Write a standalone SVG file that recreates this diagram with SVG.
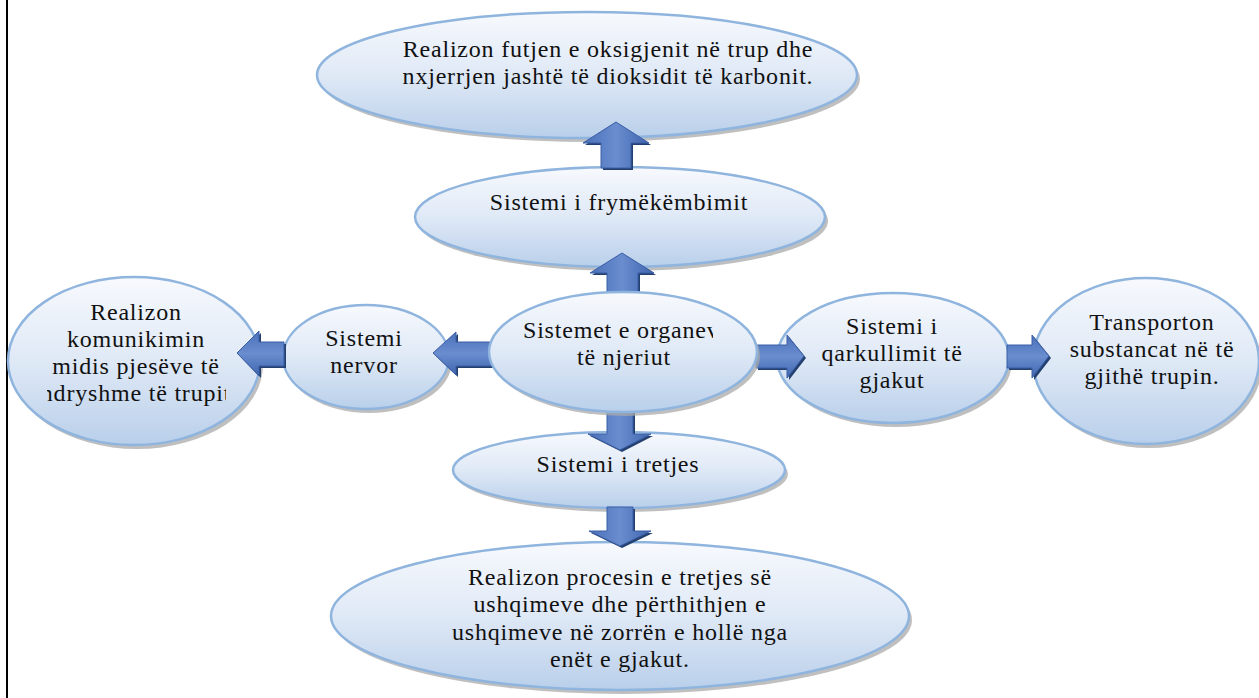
<svg xmlns="http://www.w3.org/2000/svg" width="1259" height="698" viewBox="0 0 1259 698">
<defs>
<linearGradient id="eg" x1="0" y1="0" x2="0" y2="1">
<stop offset="0" stop-color="#f7f9fd"/>
<stop offset="0.5" stop-color="#dfe9f6"/>
<stop offset="1" stop-color="#b9cfea"/>
</linearGradient>
<linearGradient id="agv" x1="0" y1="0" x2="1" y2="0">
<stop offset="0" stop-color="#4a70b8"/>
<stop offset="0.5" stop-color="#6a8dcf"/>
<stop offset="1" stop-color="#3f65ad"/>
</linearGradient>
<linearGradient id="agh" x1="0" y1="0" x2="0" y2="1">
<stop offset="0" stop-color="#4a70b8"/>
<stop offset="0.5" stop-color="#6a8dcf"/>
<stop offset="1" stop-color="#3f65ad"/>
</linearGradient>
<clipPath id="clipC"><rect x="480" y="300" width="233" height="100"/></clipPath>
<clipPath id="clipL"><rect x="47" y="290" width="179" height="130"/></clipPath>
</defs>
<style>
.sh{fill:#a9a9a9;opacity:0.75}
.el{fill:url(#eg);stroke:#8fb4de;stroke-width:2.5}
.t{font-family:"Liberation Serif","Times New Roman",serif;font-size:24px;letter-spacing:0.8px;fill:#111;text-anchor:middle}
.av{fill:url(#agv);stroke:#3a5ea6;stroke-width:1}
.ah{fill:url(#agh);stroke:#3a5ea6;stroke-width:1}
.ad{fill:#23406f}
</style>
<rect x="6" y="0" width="2" height="698" fill="#000"/>

<g id="nodes">
<g id="n-top">
<ellipse class="sh" cx="590" cy="79" rx="270" ry="63"/>
<ellipse class="el" cx="587" cy="75" rx="270" ry="63"/>
<text class="t" x="608" y="57">Realizon futjen e oksigjenit në trup dhe</text>
<text class="t" x="608" y="84">nxjerrjen jashtë të dioksidit të karbonit.</text>
</g>
<g id="n-fry">
<ellipse class="sh" cx="623" cy="221" rx="205" ry="50"/>
<ellipse class="el" cx="620" cy="217" rx="205" ry="50"/>
<text class="t" x="619" y="210">Sistemi i frymëkëmbimit</text>
</g>
<g id="n-left">
<ellipse class="sh" cx="137" cy="365" rx="126" ry="84"/>
<ellipse class="el" cx="134" cy="361" rx="126" ry="84"/>
<text class="t" x="136" y="320">Realizon</text>
<text class="t" x="136" y="347">komunikimin</text>
<text class="t" x="136" y="374">midis pjesëve të</text>
<g clip-path="url(#clipL)"><text class="t" x="136" y="401">ndryshme të trupit</text></g>
</g>
<g id="n-nerv">
<ellipse class="sh" cx="369" cy="361" rx="83" ry="52"/>
<ellipse class="el" cx="366" cy="357" rx="83" ry="52"/>
<text class="t" x="364" y="346">Sistemi</text>
<text class="t" x="364" y="373">nervor</text>
</g>
<g id="n-qark">
<ellipse class="sh" cx="896" cy="362" rx="116" ry="65"/>
<ellipse class="el" cx="893" cy="358" rx="116" ry="65"/>
<text class="t" x="892" y="334">Sistemi i</text>
<text class="t" x="892" y="361">qarkullimit të</text>
<text class="t" x="892" y="388">gjakut</text>
</g>
<g id="n-trans">
<ellipse class="sh" cx="1149" cy="365" rx="113" ry="83"/>
<ellipse class="el" cx="1146" cy="361" rx="113" ry="83"/>
<text class="t" x="1152" y="330">Transporton</text>
<text class="t" x="1152" y="357">substancat në të</text>
<text class="t" x="1152" y="384">gjithë trupin.</text>
</g>
<g id="n-tret">
<ellipse class="sh" cx="622" cy="474" rx="166" ry="38"/>
<ellipse class="el" cx="619" cy="470" rx="166" ry="38"/>
<text class="t" x="618" y="472">Sistemi i tretjes</text>
</g>
<g id="n-bot">
<ellipse class="sh" cx="623" cy="620" rx="289" ry="74"/>
<ellipse class="el" cx="620" cy="616" rx="289" ry="74"/>
<text class="t" x="620" y="585">Realizon procesin e tretjes së</text>
<text class="t" x="620" y="612">ushqimeve dhe përthithjen e</text>
<text class="t" x="620" y="640">ushqimeve në zorrën e hollë nga</text>
<text class="t" x="620" y="667">enët e gjakut.</text>
</g>
</g>

<g id="connectors">
<g id="a-top">
<polygon class="ad" transform="translate(2,2)" points="616,122 649,143 631,143 631,168 601,168 601,143 583,143"/>
<polygon class="av" points="616,122 649,143 631,143 631,168 601,168 601,143 583,143"/>
</g>
<g id="a-fry">
<polygon class="ad" transform="translate(2,2)" points="622,253 654,273 638,273 638,293 607,293 607,273 590,273"/>
<polygon class="av" points="622,253 654,273 638,273 638,293 607,293 607,273 590,273"/>
</g>
<g id="a-nerv">
<polygon class="ad" transform="translate(2,2)" points="433,353 456,332 456,342 491,342 491,366 456,366 456,375"/>
<polygon class="ah" points="433,353 456,332 456,342 491,342 491,366 456,366 456,375"/>
</g>
<g id="a-left">
<polygon class="ad" transform="translate(2,2)" points="237,353 259,331 259,342 284,342 284,366 259,366 259,376"/>
<polygon class="ah" points="237,353 259,331 259,342 284,342 284,366 259,366 259,376"/>
</g>
<g id="a-qark">
<polygon class="ad" transform="translate(2,2)" points="804,356 787,335 787,345 756,345 756,368 787,368 787,378"/>
<polygon class="ah" points="804,356 787,335 787,345 756,345 756,368 787,368 787,378"/>
</g>
<g id="a-trans">
<polygon class="ad" transform="translate(2,2)" points="1049,356 1032,335 1032,345 1007,345 1007,368 1032,368 1032,378"/>
<polygon class="ah" points="1049,356 1032,335 1032,345 1007,345 1007,368 1032,368 1032,378"/>
</g>
<g id="a-tret">
<polygon class="ad" transform="translate(2,2)" points="620,450 651,434 633,434 633,411 607,411 607,434 588,434"/>
<polygon class="av" points="620,450 651,434 633,434 633,411 607,411 607,434 588,434"/>
</g>
<g id="a-bot">
<polygon class="ad" transform="translate(2,2)" points="620,546 651,531 633,531 633,507 607,507 607,531 589,531"/>
<polygon class="av" points="620,546 651,531 633,531 633,507 607,507 607,531 589,531"/>
</g>
</g>

<g id="n-center">
<ellipse class="sh" cx="626" cy="356" rx="134" ry="60"/>
<ellipse class="el" cx="623" cy="352" rx="134" ry="60"/>
<g clip-path="url(#clipC)"><text class="t" x="523" y="338" style="text-anchor:start">Sistemet e organeve</text></g>
<text class="t" x="624" y="365">të njeriut</text>
</g>
</svg>
